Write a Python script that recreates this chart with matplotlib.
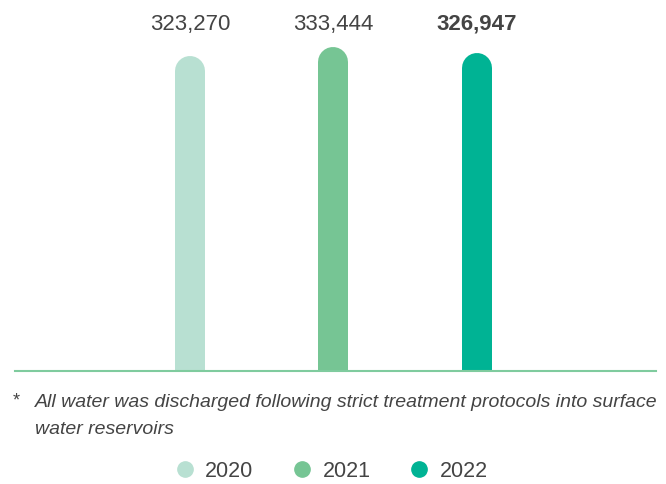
import matplotlib.pyplot as plt
from matplotlib.lines import Line2D

plt.rcParams['font.family'] = ['Liberation Sans', 'DejaVu Sans']

years = ['2020', '2021', '2022']
values = [323270, 333444, 326947]
labels = ['323,270', '333,444', '326,947']
colors = ['#b8e0d2', '#76c594', '#00b394']
text_color = '#444444'

fig = plt.figure(figsize=(6.66, 4.85), dpi=100)
# axes bottom sits on the baseline, so the round bottom caps get clipped
ax = fig.add_axes([15 / 666, 1 - 372 / 485, 641 / 666, 352 / 485])

for i, (v, c) in enumerate(zip(values, colors)):
    ax.plot([i, i], [0, v], color=c, linewidth=21.6, solid_capstyle='round')
    ax.text(i, 1.0 - 4 / 352, labels[i], transform=ax.get_xaxis_transform(),
            ha='center', va='center', fontsize=16, color=text_color,
            fontweight='bold' if i == 2 else 'normal')

ax.set_xlim(-1.22, 3.25)
ax.set_ylim(0, 379850)
for side in ['top', 'right', 'left']:
    ax.spines[side].set_visible(False)
ax.spines['bottom'].set_color('#7fcb9e')
ax.spines['bottom'].set_linewidth(1.5)
ax.set_xticks([])
ax.set_yticks([])

fig.text(13 / 666, 1 - 401 / 485, '*', fontsize=13, color=text_color,
         ha='left', va='center')
fig.text(35 / 666, 1 - 416 / 485,
         'All water was discharged following strict treatment protocols into surface\nwater reservoirs',
         fontsize=14, color=text_color, ha='left', va='center', style='italic',
         linespacing=1.72)

handles = [Line2D([], [], linestyle='none', marker='o', markersize=11,
                  markerfacecolor=c, markeredgecolor=c) for c in colors]
fig.legend(handles, years, loc='center', bbox_to_anchor=(332 / 666, 1 - 472 / 485),
           ncol=3, frameon=False, fontsize=15.5, labelcolor=text_color,
           handletextpad=0.53, columnspacing=1.88, handlelength=0.8)

fig.savefig('out.png', dpi=100)
